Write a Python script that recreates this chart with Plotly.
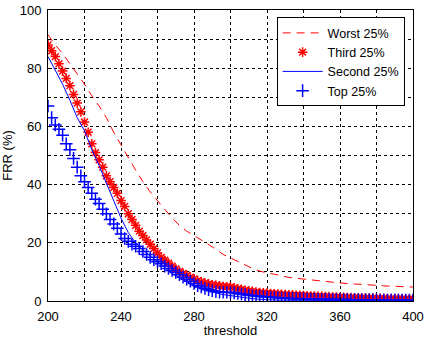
import plotly.graph_objects as go

# Data
x_marker = list(range(200, 401, 2))
third_25 = [88, 86, 84, 81.5, 79, 76.5, 74, 71, 68, 65, 61.5, 58, 54, 51, 48.5, 46, 43, 41, 39, 37,
            34.5, 32.5, 30, 28, 26, 24, 22.5, 21, 19.5, 18, 16.5, 15, 14, 13, 12, 11, 10.2, 9.5, 8.8, 8.2,
            7.6, 7, 6.6, 6.2, 5.9, 5.6, 5.4, 5.2, 5, 4.9, 4.8, 4.5, 4.2, 4, 3.7, 3.5, 3.3, 3.1, 2.9, 2.8,
            2.7, 2.6, 2.5, 2.4, 2.3, 2.2, 2.1, 2.1, 2, 2, 1.9, 1.8, 1.7, 1.7, 1.6, 1.6, 1.5, 1.5, 1.4, 1.4,
            1.3, 1.3, 1.2, 1.2, 1.1, 1.1, 1.1, 1.0, 1.0, 1.0, 0.9, 0.9, 0.9, 0.8, 0.8, 0.8, 0.8, 0.7, 0.7, 0.7,
            0.7]
top_25 = [67, 63, 60.5, 59, 57, 54, 52, 49, 46, 43, 41, 39, 37, 35, 33.5, 31.5, 30, 28, 26.5, 25,
          23, 21.5, 20.5, 19.5, 18.8, 18, 17, 16, 15, 14.2, 13.5, 12.8, 12, 11.2, 10.5, 9.8, 9, 8.2, 7.5, 6.8,
          6, 5.3, 4.8, 4.3, 3.9, 3.5, 3.2, 3, 3, 3, 2.9, 2.8, 2.6, 2.4, 2.2, 2, 1.9, 1.7, 1.6, 1.5,
          1.4, 1.3, 1.2, 1.1, 1, 1, 0.9, 0.9, 0.8, 0.8, 0.8, 0.7, 0.7, 0.7, 0.6, 0.6, 0.6, 0.6, 0.5, 0.5,
          0.5, 0.5, 0.5, 0.4, 0.4, 0.4, 0.4, 0.4, 0.4, 0.4, 0.3, 0.3, 0.3, 0.3, 0.3, 0.3, 0.3, 0.3, 0.3, 0.3,
          0.3]

x_line = list(range(200, 401, 4))
worst_25 = [91.5, 88, 85, 81.7, 78, 74.5, 70.5, 67, 63, 58, 53.5, 49, 45, 41, 37.5, 34.5, 31.5, 28.5, 26, 24,
            22.5, 21, 19.5, 17.8, 16, 14.8, 13.5, 12.3, 11.2, 10.3, 9.6, 9.2, 8.6, 8.1, 7.8, 7.5, 7.2, 7, 6.7, 6.4,
            6.2, 6, 5.9, 5.8, 5.6, 5.4, 5.2, 5.1, 5, 4.9, 4.8]
second_25 = [84, 79.5, 74.5, 69, 63, 58.5, 52, 46.5, 40.5, 34, 28.5, 23.5, 20, 17.5, 15.5, 13.5, 11.5, 9.5, 8, 6.5,
             5.3, 4.3, 3.5, 2.8, 2.2, 1.8, 1.4, 1.1, 0.8, 0.6, 0.4, 0.35, 0.3, 0.28, 0.25, 0.2, 0.18, 0.15, 0.12, 0.1,
             0.1, 0.1, 0.1, 0.08, 0.06, 0.05, 0.04, 0.03, 0.02, 0.01, 0]

x_ticks = [200, 240, 280, 320, 360, 400]
y_ticks = [0, 20, 40, 60, 80, 100]

RED = "#ff0000"
BLUE = "#0000ff"

fig = go.Figure()
fig.add_trace(go.Scatter(x=x_line, y=worst_25, mode="lines", name="Worst 25%",
                         line=dict(color=RED, width=1, dash="8px,6px")))
fig.add_trace(go.Scatter(x=x_marker, y=third_25, mode="markers", name="Third 25%",
                         marker=dict(symbol="asterisk-open", size=8, color=RED,
                                     line=dict(color=RED, width=1.5))))
fig.add_trace(go.Scatter(x=x_line, y=second_25, mode="lines", name="Second 25%",
                         line=dict(color=BLUE, width=1)))
fig.add_trace(go.Scatter(x=x_marker, y=top_25, mode="markers", name="Top 25%",
                         marker=dict(symbol="cross-thin-open", size=9, color=BLUE,
                                     line=dict(color=BLUE, width=1.5))))

font = dict(family="Liberation Sans, Arial, sans-serif", size=13, color="black")
legend_font = dict(family="Liberation Sans, Arial, sans-serif", size=12.5, color="black")
grid = dict(showgrid=True, gridcolor="black", gridwidth=1, griddash="3px,3px")

fig.update_layout(
    width=427, height=338,
    margin=dict(l=48, r=14, t=10, b=37, autoexpand=False),
    paper_bgcolor="white", plot_bgcolor="white",
    font=font,
    hovermode=False,
    showlegend=True,
    legend=dict(x=0.977, y=0.975, xanchor="right", yanchor="top",
                bgcolor="white", bordercolor="black", borderwidth=1,
                font=legend_font, tracegroupgap=0, itemwidth=40),
)
fig.update_xaxes(range=[200, 400], tickvals=x_ticks, ticktext=[str(v) for v in x_ticks],
                 automargin=False,
                 showline=True, linecolor="black", linewidth=1, mirror=True,
                 ticks="inside", ticklen=4, tickcolor="black", ticklabelstandoff=3,
                 minor=dict(dtick=20, tick0=200, showgrid=True, gridcolor="black", griddash="3px,3px",
                            ticks="inside", ticklen=2, tickcolor="black"),
                 zeroline=False,
                 title=dict(text="threshold", font=font, standoff=5),
                 **grid)
fig.update_yaxes(range=[0, 100], tickvals=y_ticks, ticktext=[str(v) for v in y_ticks],
                 automargin=False,
                 showline=True, linecolor="black", linewidth=1, mirror=True,
                 ticks="inside", ticklen=4, tickcolor="black", ticklabelstandoff=3,
                 minor=dict(dtick=10, tick0=0, showgrid=True, gridcolor="black", griddash="3px,3px",
                            ticks="inside", ticklen=2, tickcolor="black"),
                 zeroline=False,
                 title=dict(text="FRR (%)", font=font, standoff=6),
                 **grid)

fig.write_html("out.html", config={"displayModeBar": False},
               post_script="document.body.style.margin='0';")
